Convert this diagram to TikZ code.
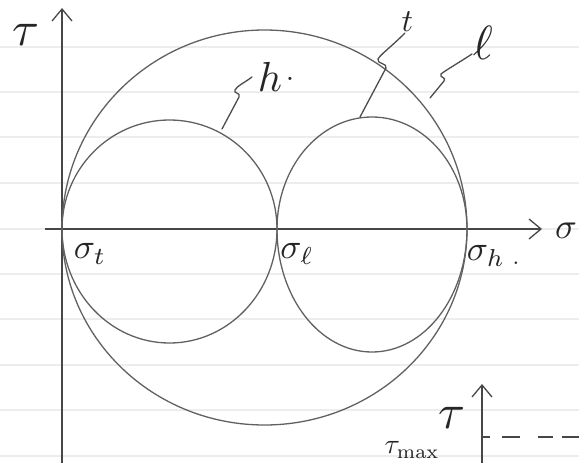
\documentclass[tikz,border=0pt]{standalone}
\usetikzlibrary{arrows.meta}
\begin{document}
\begin{tikzpicture}[x=1pt,y=-1pt,
  curve/.style={draw=black!62, line width=1.3pt},
  axis/.style={draw=black!72, line width=1.4pt},
  paper/.style={draw=black!7, line width=1.1pt},
  lab/.style={text=black!85, inner sep=0pt, transform shape},
  lead/.style={draw=black!70, line width=1.3pt, line cap=round, line join=round},
  barb/.style={-{Straight Barb[length=12pt,width=20pt,line width=1.3pt]}}
]
\useasboundingbox (0,0) rectangle (579,463);
\fill[white] (0,0) rectangle (579,463);
\foreach \y in {47,92,137,183,229,274,319,365,410,456} \draw[paper] (0,\y) -- (579,\y);

% coordinates
\coordinate (O) at (62,229);
\coordinate (Sl) at (277,229);
\coordinate (Sh) at (467,229);
\coordinate (ytop) at (62,8);
\coordinate (ybot) at (62,463);
\coordinate (xleft) at (45,229);
\coordinate (xright) at (542,229);

% axes
\draw[axis, barb] (ybot) -- (ytop);
\draw[axis, barb] (xleft) -- (xright);

% big circle
\draw[curve] (O) arc[start angle=180,end angle=0,x radius=202.5pt,y radius=199pt]
  arc[start angle=0,end angle=-180,x radius=202.5pt,y radius=196pt];
% left small circle
\draw[curve] (O) arc[start angle=180,end angle=0,x radius=107.5pt,y radius=109pt]
  arc[start angle=0,end angle=-180,x radius=107.5pt,y radius=114pt];
% right small circle
\draw[curve] (Sl) arc[start angle=180,end angle=0,x radius=95pt,y radius=112pt]
  arc[start angle=0,end angle=-180,x radius=95pt,y radius=123pt];

% leaders
\coordinate (hs) at (222,129);
\coordinate (he) at (252,77);
\coordinate (ts) at (360,117);
\coordinate (te) at (405,33);
\coordinate (ls) at (430,98);
\coordinate (le) at (472,54);
\draw[lead] (hs) -- (239,97) .. controls (241,92) and (233,94) .. (235,90) .. controls (237,86) and (244,83) .. (he);
\draw[lead] (ts) -- (386,68) .. controls (388,63) and (376,64) .. (378,59) .. controls (380,55) and (392,46) .. (te);
\draw[lead] (ls) -- (444,81) .. controls (447,77) and (439,78) .. (441,74) .. controls (446,70) and (460,62) .. (le);

% labels
\node[lab, anchor=base west, scale=4.2] (hlab) at (257,91) {$h$};
\node[lab, anchor=base, scale=3] (hdot) at (290,80) {.};
\node[lab, anchor=base west, scale=3.2] (tlab) at (401,31) {$t$};
\node[lab, anchor=base west, scale=4.8] (llab) at (472,59) {$\ell$};

\node[lab, scale=4.9] (tau) at (26,35) {$\tau$};
\node[lab, scale=3.6] (sig) at (566,231) {$\sigma$};
\node[lab, scale=3.5] (st) at (90,254) {$\sigma_t$};
\node[lab, scale=3.5] (sl) at (297,254) {$\sigma_\ell$};
\node[lab, scale=3.5] (sh) at (486,256) {$\sigma_h$};
\node[lab, anchor=base, scale=2.4] (shdot) at (516,264) {.};

% bottom-right fragment
\coordinate (b1) at (482,463);
\coordinate (b2) at (482,384);
\draw[axis, barb] (b1) -- (b2);
\coordinate (d1) at (482,437);
\coordinate (d2) at (579,437);
\draw[axis, line width=1.2pt, dash pattern=on 8pt off 12pt on 18pt off 18pt on 15pt off 9pt on 20pt] (d1) -- (d2);
\node[lab, scale=4.9] (tau2) at (452,418) {$\tau$};
\node[lab, scale=2.8] (taumax) at (412,450) {$\tau_{\mathrm{max}}$};
\end{tikzpicture}
\end{document}
